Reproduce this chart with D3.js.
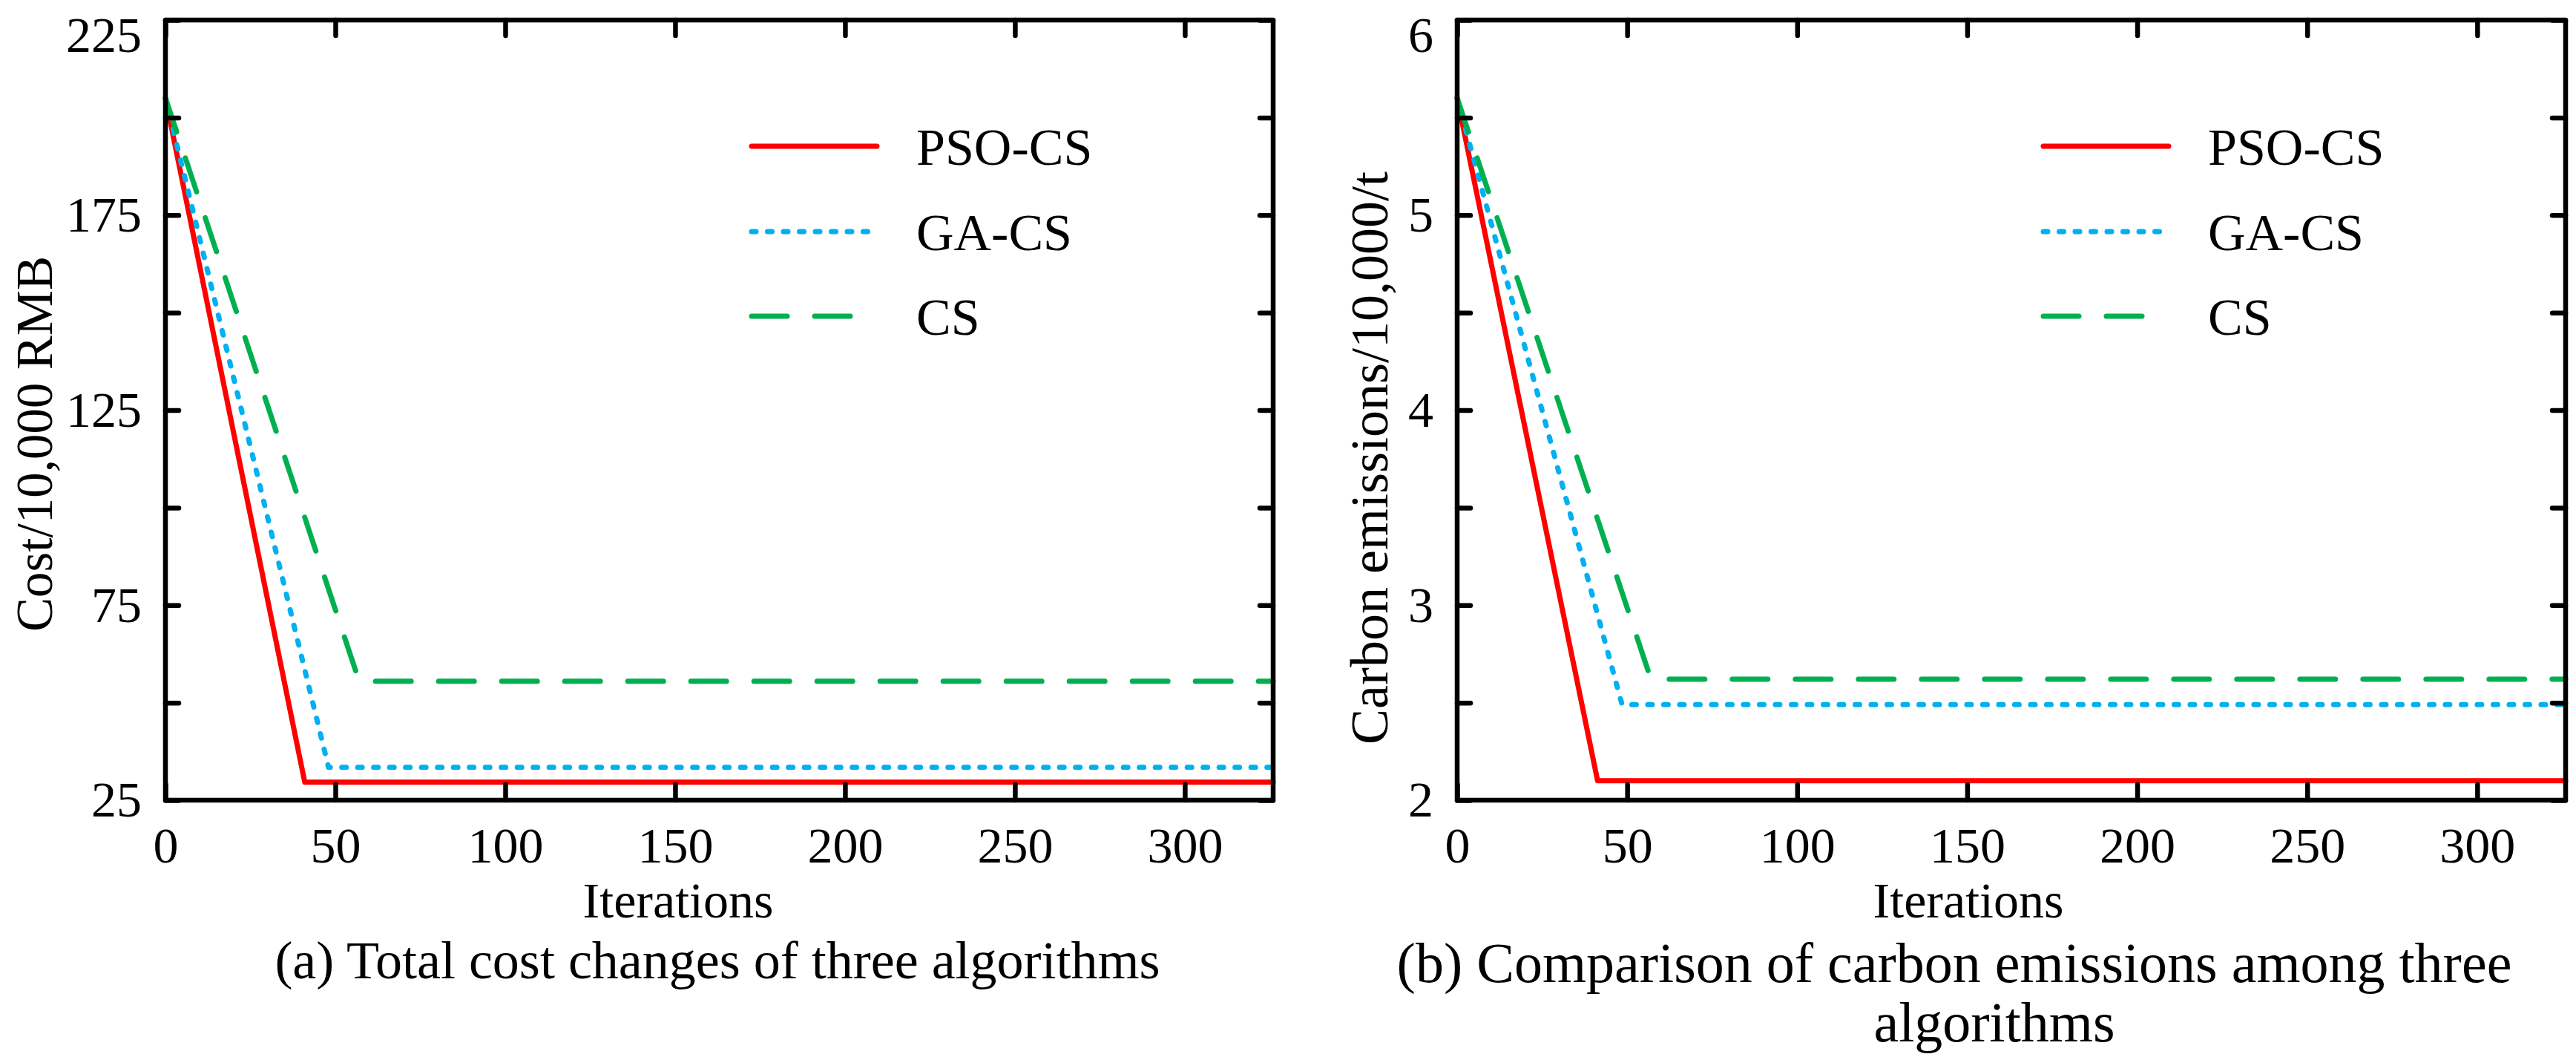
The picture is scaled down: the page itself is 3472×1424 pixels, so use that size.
<!DOCTYPE html>
<html>
<head>
<meta charset="utf-8">
<script src="https://cdn.jsdelivr.net/npm/d3@7"></script>
<style>
  html, body { margin: 0; padding: 0; background: #fff; }
  svg { display: block; }
  text { font-family: "Liberation Serif", "Times New Roman", serif; fill: #000; }
</style>
</head>
<body>
<svg id="chart" width="3472" height="1424"></svg>
<script>
// ---------------- data ----------------
const algorithms = ["PSO-CS", "GA-CS", "CS"];
const colors = ["#ff0000", "#00b0f0", "#00b050"];

const costIterations = [[0, 41, 326], [0, 48, 326], [0, 57, 326]];
const costValues     = [[205, 29.6, 29.6], [205, 33.4, 33.4], [205, 55.5, 55.5]];

const carbonIterations = [[0, 41.3, 326], [0, 48.5, 326], [0, 57, 326]];
const carbonValues     = [[5.6, 2.1, 2.1], [5.6, 2.49, 2.49], [5.6, 2.62, 2.62]];

const iterTicks = [0, 50, 100, 150, 200, 250, 300];
const costTicks = [25, 50, 75, 100, 125, 150, 175, 200, 225];
const costTickLabels = [25, 75, 125, 175, 225];
const carbonTicks = [2, 2.5, 3, 3.5, 4, 4.5, 5, 5.5, 6];
const carbonTickLabels = [2, 3, 4, 5, 6];

const xTitle = "Iterations";
const costTitle = "Cost/10,000 RMB";
const carbonTitle = "Carbon emissions/10,000/t";
const captionA = ["(a) Total cost changes of three algorithms"];
const captionB = ["(b) Comparison of carbon emissions among three", "algorithms"];

// ---------------- layout ----------------
const svg = d3.select("#chart");
const plotTop = 27, plotBottom = 1078;
const dashes = [null, "6,15.5", "48,37"];

function panel(cfg) {
  const x = d3.scaleLinear().domain([0, 326]).range([cfg.x0, cfg.x1]);
  const y = d3.scaleLinear().domain(cfg.yDomain).range([plotBottom, plotTop]);
  const g = svg.append("g");

  // lines
  const line = d3.line().x(d => x(d[0])).y(d => y(d[1]));
  algorithms.forEach((name, i) => {
    const pts = cfg.iters[i].map((it, j) => [it, cfg.vals[i][j]]);
    g.append("path")
      .datum(pts)
      .attr("d", line)
      .attr("fill", "none")
      .attr("stroke", colors[i])
      .attr("stroke-width", 7)
      .attr("stroke-linecap", "round")
      .attr("stroke-linejoin", "round")
      .attr("stroke-dasharray", dashes[i]);
  });

  // axes
  const fmtY = d => cfg.yLabels.includes(d) ? String(d) : "";
  const left = g.append("g").attr("transform", `translate(${cfg.x0},0)`)
    .call(d3.axisLeft(y).tickValues(cfg.yTicks).tickSize(-18).tickPadding(32).tickFormat(fmtY));
  const right = g.append("g").attr("transform", `translate(${cfg.x1},0)`)
    .call(d3.axisRight(y).tickValues(cfg.yTicks).tickSize(-18).tickFormat(""));
  const bot = g.append("g").attr("transform", `translate(0,${plotBottom})`)
    .call(d3.axisBottom(x).tickValues(iterTicks).tickSize(-21).tickPadding(36).tickFormat(d3.format("d")));
  const topA = g.append("g").attr("transform", `translate(0,${plotTop})`)
    .call(d3.axisTop(x).tickValues(iterTicks).tickSize(-21).tickFormat(""));

  [left, right, bot, topA].forEach(a => {
    a.select(".domain").remove();
    a.selectAll(".tick line").attr("stroke", "#000").attr("stroke-width", 6.5).attr("stroke-linecap", "round");
    a.selectAll(".tick text").attr("font-size", 68).attr("font-family", "Liberation Serif, serif").attr("fill", "#000");
  });
  left.selectAll(".tick text").filter(d => d === cfg.yDomain[1]).attr("dy", "0.62em");

  // box
  g.append("rect")
    .attr("x", cfg.x0).attr("y", plotTop)
    .attr("width", cfg.x1 - cfg.x0).attr("height", plotBottom - plotTop)
    .attr("fill", "none").attr("stroke", "#000").attr("stroke-width", 6.5)
    .attr("stroke-linejoin", "round");

  // legend
  const legY = [197, 312, 426];
  algorithms.forEach((name, i) => {
    g.append("line")
      .attr("x1", cfg.x0 + 790).attr("x2", cfg.x0 + 959)
      .attr("y1", legY[i]).attr("y2", legY[i])
      .attr("stroke", colors[i]).attr("stroke-width", 7)
      .attr("stroke-linecap", "round")
      .attr("stroke-dasharray", dashes[i]);
    g.append("text")
      .attr("x", cfg.x0 + 1012).attr("y", legY[i])
      .attr("dy", "0.35em")
      .attr("font-size", 70)
      .text(name);
  });

  // y title
  g.append("text")
    .attr("transform", `translate(${cfg.yTitleX},${cfg.yTitleY}) rotate(-90)`)
    .attr("text-anchor", "middle")
    .attr("dy", "0.35em")
    .attr("font-size", cfg.yTitleSize)
    .text(cfg.yTitle);

  // x title
  g.append("text")
    .attr("x", cfg.xTitleX).attr("y", 1236)
    .attr("text-anchor", "middle")
    .attr("font-size", 68)
    .text(xTitle);

  // caption
  cfg.caption.forEach((t, i) => {
    g.append("text")
      .attr("x", cfg.capX[i]).attr("y", cfg.capY + i * 80)
      .attr("text-anchor", "middle")
      .attr("font-size", cfg.capSize)
      .text(t);
  });
}

panel({
  x0: 223, x1: 1716,
  yDomain: [25, 225], yTicks: costTicks, yLabels: costTickLabels,
  iters: costIterations, vals: costValues,
  yTitle: costTitle, yTitleX: 46, yTitleY: 598, yTitleSize: 69,
  xTitleX: 914,
  caption: captionA, capX: [967], capY: 1318, capSize: 72
});

panel({
  x0: 1964, x1: 3458,
  yDomain: [2, 6], yTicks: carbonTicks, yLabels: carbonTickLabels,
  iters: carbonIterations, vals: carbonValues,
  yTitle: carbonTitle, yTitleX: 1845, yTitleY: 617, yTitleSize: 72,
  xTitleX: 2653,
  caption: captionB, capX: [2634, 2688], capY: 1323, capSize: 76
});
</script>
</body>
</html>
